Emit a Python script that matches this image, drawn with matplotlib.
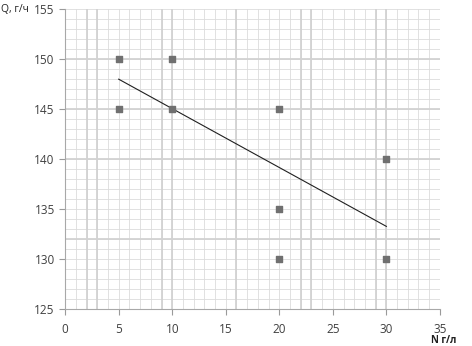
import numpy as np
import matplotlib.pyplot as plt

# точки измерений
n_vals = [5, 5, 10, 10, 20, 20, 20, 30, 30]
q_vals = [150, 145, 150, 145, 145, 135, 130, 140, 130]

x_ticks = [0, 5, 10, 15, 20, 25, 30, 35]
y_ticks = [125, 130, 135, 140, 145, 150, 155]

# более тёмные линии миллиметровки (как на скане)
thick_x = [2, 3, 9, 10, 16, 22, 23, 29, 30]
thick_y = [132, 140, 145, 150]

plt.rcParams["font.family"] = ["Open Sans", "DejaVu Sans"]

fig = plt.figure(figsize=(4.72, 3.46), dpi=100)
ax = fig.add_axes([0.138, 0.107, 0.794, 0.867])

ax.set_xlim(0, 35)
ax.set_ylim(125, 155)

for x in range(0, 36):
    ax.axvline(x, color='#dcdcdc', lw=0.6, zorder=0)
for y in range(125, 156):
    ax.axhline(y, color='#dcdcdc', lw=0.6, zorder=0)
for x in thick_x:
    ax.axvline(x, color='#d2d2d2', lw=1.3, zorder=0)
for y in thick_y:
    ax.axhline(y, color='#d2d2d2', lw=1.3, zorder=0)

ax.scatter(n_vals, q_vals, marker='s', s=24, color='#707070', zorder=3)

# линия тренда
k, b = np.polyfit(n_vals, q_vals, 1)
x_line = np.array([min(n_vals), max(n_vals)])
ax.plot(x_line, k * x_line + b, color='#202020', lw=0.8, zorder=2)

ax.set_xticks(x_ticks)
ax.set_yticks(y_ticks)
ax.tick_params(colors='#9a9a9a', labelcolor='#404040', labelsize=8.5, length=4, width=0.8)
ax.tick_params(axis='x', pad=6)
for side in ['top', 'right']:
    ax.spines[side].set_visible(False)
for side in ['left', 'bottom']:
    ax.spines[side].set_color('#a8a8a8')

fig.text(0.003, 0.972, 'Q, г/ч', fontsize=7.5, color='#202020', va='center', ha='left')
fig.text(0.94, 0.016, 'N г/л', fontsize=7, color='#202020', va='center', ha='center',
         fontweight='bold')

plt.savefig('out.png', dpi=100)
